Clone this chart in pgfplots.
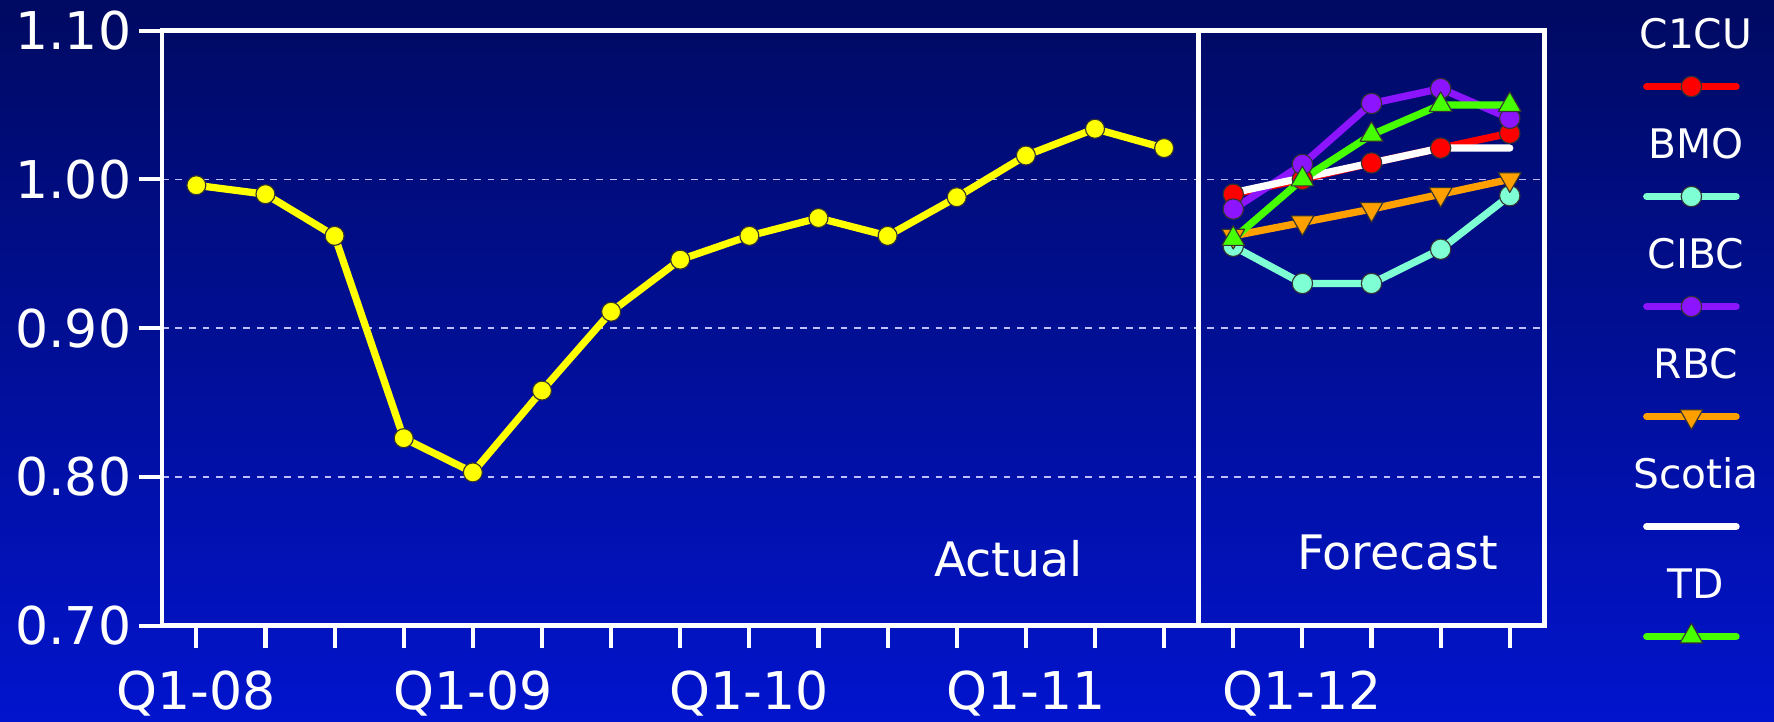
\documentclass[border=0pt]{standalone}
\usepackage{fontspec}
\setmainfont{DejaVu Sans}
\usepackage{pgfplots}
\pgfplotsset{compat=1.18}
\usetikzlibrary{backgrounds}

\definecolor{bgtop}{RGB}{0,10,98}
\definecolor{bgbot}{RGB}{2,20,205}
\definecolor{actcol}{RGB}{255,255,0}
\definecolor{cicol}{RGB}{255,0,0}
\definecolor{bmocol}{RGB}{127,255,212}
\definecolor{cibccol}{RGB}{140,20,255}
\definecolor{rbccol}{RGB}{255,160,0}
\definecolor{tdcol}{RGB}{70,255,0}

\begin{document}
\begin{tikzpicture}
% page background
\shade[top color=bgtop, bottom color=bgbot] (-71.5pt,-42.5pt) rectangle (712.5pt,276.5pt);
\begin{axis}[
  scale only axis,
  width=611pt, height=263pt,
  at={(0,0)}, anchor=south west,
  xmin=-0.5, xmax=19.5,
  ymin=0.70, ymax=1.10,
  xtick={0,...,19},
  xticklabels={Q1-08,,,,Q1-09,,,,Q1-10,,,,Q1-11,,,,Q1-12,,,},
  ytick={0.70,0.80,0.90,1.00,1.10},
  yticklabels={0.70,0.80,0.90,1.00,1.10},
  tick pos=left,
  tick align=outside,
  major tick length=10pt,
  tick style={white, line width=1.8pt},
  axis line style={white, line width=2pt},
  ticklabel style={text=white, font=\fontsize{23}{23}\selectfont},
  xticklabel style={yshift=-6.5pt},
  ymajorgrids,
  grid style={white!75!blue, line width=0.6pt, dash pattern=on 3pt off 3pt},
  every axis plot/.append style={line width=3.2pt, line join=round, line cap=round},
  legend cell align=center,
  legend style={at={(1,1)}, anchor=north, xshift=67pt, yshift=7pt,
    draw=none, fill=none, inner sep=0pt, outer sep=0pt,
    row sep=30.1pt, column sep=0pt,
    cells={anchor=center, text width=60pt, align=center, inner sep=0pt,
      text height=13pt, text depth=0pt, text=white,
      font=\fontsize{18}{18}\selectfont}},
  legend image code/.code={
    \draw[overlay,#1,mark repeat=2,mark phase=2]
      plot coordinates {(10.25pt,-22.5pt) (30pt,-22.5pt) (49.75pt,-22.5pt)};
  },
]
% actual
\addplot[actcol, mark=*, mark size=4.2pt,
  mark options={fill=actcol, draw=black!80, line width=0.5pt}, forget plot]
  coordinates {
    (0,0.996) (1,0.990) (2,0.962) (3,0.826) (4,0.803) (5,0.858)
    (6,0.911) (7,0.946) (8,0.962) (9,0.974) (10,0.962) (11,0.988)
    (12,1.016) (13,1.034) (14,1.021)
  };

% forecasts
\addplot[cicol, mark=*, mark size=4.5pt,
  mark options={fill=cicol, draw=black!80, line width=0.5pt}]
  coordinates {(15,0.990) (16,1.000) (17,1.011) (18,1.021) (19,1.031)};
\addlegendentry{C1CU}
\addplot[bmocol, mark=*, mark size=4.5pt,
  mark options={fill=bmocol, draw=black!80, line width=0.5pt}]
  coordinates {(15,0.955) (16,0.930) (17,0.930) (18,0.953) (19,0.989)};
\addlegendentry{BMO}
\addplot[cibccol, mark=*, mark size=4.5pt,
  mark options={fill=cibccol, draw=black!80, line width=0.5pt}]
  coordinates {(15,0.980) (16,1.010) (17,1.051) (18,1.061) (19,1.041)};
\addlegendentry{CIBC}
\addplot[rbccol, mark=triangle*, mark size=5.8pt,
  mark options={fill=rbccol, draw=black!80, line width=0.5pt, rotate=180}]
  coordinates {(15,0.962) (16,0.971) (17,0.980) (18,0.990) (19,1.000)};
\addlegendentry{RBC}
\addplot[white, no marks]
  coordinates {(15,0.991) (16,1.001) (17,1.011) (18,1.021) (19,1.021)};
\addlegendentry{Scotia}
\addplot[tdcol, mark=triangle*, mark size=5.8pt,
  mark options={fill=tdcol, draw=black!80, line width=0.5pt}]
  coordinates {(15,0.960) (16,1.000) (17,1.030) (18,1.050) (19,1.050)};
\addlegendentry{TD}

% actual / forecast divider
\draw[white, line width=2pt] (axis cs:14.5,0.70) -- (axis cs:14.5,1.10);
\node[text=white, font=\fontsize{21}{21}\selectfont] at (axis cs:11.75,0.745) {Actual};
\node[text=white, font=\fontsize{21}{21}\selectfont] at (axis cs:17.38,0.749) {Forecast};
\end{axis}
\pgfresetboundingbox
\path[use as bounding box] (-71.5pt,-42.5pt) rectangle (712.5pt,276.5pt);
\end{tikzpicture}
\end{document}
